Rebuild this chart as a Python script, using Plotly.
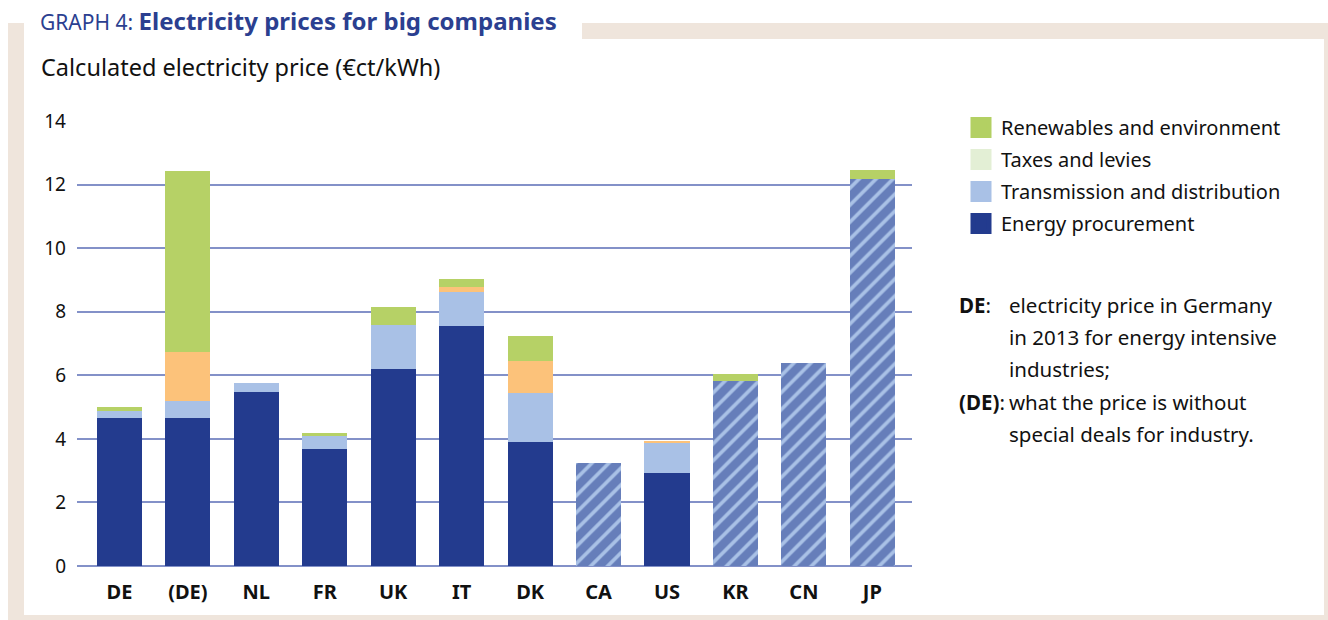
import plotly.graph_objects as go

# ---------------- data ----------------
categories = ["DE", "(DE)", "NL", "FR", "UK", "IT", "DK", "CA", "US", "KR", "CN", "JP"]
energy_procurement = [4.65, 4.65, 5.47, 3.68, 6.19, 7.55, 3.90, 0, 2.92, 0, 0, 0]
total_no_breakdown = [0, 0, 0, 0, 0, 0, 0, 3.24, 0, 5.82, 6.38, 12.17]
transmission = [0.22, 0.54, 0.28, 0.44, 1.39, 1.07, 1.54, 0, 0.95, 0, 0, 0]
taxes_levies = [0, 1.54, 0, 0, 0, 0.15, 1.01, 0, 0.06, 0, 0, 0]
renewables = [0.13, 5.69, 0, 0.06, 0.56, 0.26, 0.78, 0, 0, 0.22, 0, 0.28]

legend_names = ["Renewables and environment", "Taxes and levies",
                "Transmission and distribution", "Energy procurement"]
legend_colors = ["#b3d063", "#e3efd5", "#a9c1e6", "#233b8e"]

y_ticks = [0, 2, 4, 6, 8, 10, 12, 14]

note_lines = [
    ("<b>DE</b>:", "electricity price in Germany"),
    ("", "in 2013 for energy intensive"),
    ("", "industries;"),
    ("<b>(DE)</b>:", "what the price is without"),
    ("", "special deals for industry."),
]

title_main = "Electricity prices for big companies"
y_title = "Calculated electricity price (€ct/kWh)"

# ---------------- style ----------------
DARK = "#233b8e"
LIGHT = "#a9c1e6"
ORANGE = "#fcc27a"
GREEN = "#b6d166"
BEIGE = "#efe5dc"
FONT = "Noto Sans"

W, H = 1328, 620
L, R, T, B = 77, 416, 121, 54   # plot area 77..912 x 121..566


def px_x(px):
    return (px - L) / (W - L - R)


def px_y(py):
    return (H - B - py) / (H - T - B)


fig = go.Figure()
bar_w = 0.66
fig.add_bar(x=categories, y=energy_procurement, marker=dict(color=DARK, line_width=0),
            width=bar_w, showlegend=False, name="Energy procurement")
fig.add_bar(x=categories, y=total_no_breakdown,
            marker=dict(color=LIGHT, line_width=0,
                        pattern=dict(shape="/", fgcolor=DARK, bgcolor=LIGHT,
                                     size=12, solidity=0.7)),
            width=bar_w, showlegend=False, name="Total price")
fig.add_bar(x=categories, y=transmission, marker=dict(color=LIGHT, line_width=0),
            width=bar_w, showlegend=False, name="Transmission and distribution")
fig.add_bar(x=categories, y=taxes_levies, marker=dict(color=ORANGE, line_width=0),
            width=bar_w, showlegend=False, name="Taxes and levies")
fig.add_bar(x=categories, y=renewables, marker=dict(color=GREEN, line_width=0),
            width=bar_w, showlegend=False, name="Renewables and environment")

# legend entries
for name, col in zip(legend_names, legend_colors):
    fig.add_scatter(x=[None], y=[None], mode="markers", name=name,
                    marker=dict(symbol="square", size=16, color=col,
                                line=dict(color=col, width=5)),
                    legendgroup=name)

shapes = [
    dict(type="rect", xref="paper", yref="paper", layer="below",
         x0=px_x(8), x1=px_x(1330), y0=px_y(622), y1=px_y(23),
         fillcolor=BEIGE, line_width=0),
    dict(type="rect", xref="paper", yref="paper", layer="below",
         x0=px_x(24), x1=px_x(1324), y0=px_y(615), y1=px_y(39),
         fillcolor="white", line_width=0),
    dict(type="rect", xref="paper", yref="paper", layer="below",
         x0=px_x(24), x1=px_x(582), y0=px_y(39.5), y1=px_y(22),
         fillcolor="white", line_width=0),
]

annotations = [
    dict(xref="paper", yref="paper", x=px_x(39), y=px_y(67), xanchor="left",
         yanchor="middle", text=y_title, showarrow=False,
         font=dict(family=FONT, size=23.5, color="#111111")),
]
line_y0, line_dy = 305, 32.2
for i, (lab, txt) in enumerate(note_lines):
    yy = px_y(line_y0 + i * line_dy)
    if lab:
        annotations.append(dict(xref="paper", yref="paper", x=px_x(957), y=yy,
                                xanchor="left", yanchor="middle", text=lab, showarrow=False,
                                font=dict(family=FONT, size=20.5, color="#111111")))
    annotations.append(dict(xref="paper", yref="paper", x=px_x(1007), y=yy,
                            xanchor="left", yanchor="middle", text=txt, showarrow=False,
                            font=dict(family=FONT, size=20.5, color="#111111")))

fig.update_layout(
    width=W, height=H,
    margin=dict(l=L, r=R, t=T, b=B, pad=0),
    paper_bgcolor="white", plot_bgcolor="white",
    barmode="stack",
    font=dict(family=FONT, size=19, color="#111111"),
    title=dict(
        text="<span style='font-size:21px'>GRAPH 4: </span><b>" + title_main + "</b>",
        x=40 / W, xanchor="left", y=1 - 22 / H, yanchor="middle",
        font=dict(family=FONT, size=24, color="#2b3f90"),
    ),
    xaxis=dict(range=[-0.62, 11.58], showgrid=False, zeroline=False, showline=False,
               ticks="", ticklabelstandoff=12,
               tickfont=dict(family=FONT, size=20, weight="bold", color="#111111")),
    yaxis=dict(range=[0, 14], tickvals=y_ticks, showgrid=True, gridcolor="#8391c8",
               gridwidth=1.6, zeroline=True, zerolinecolor="#8391c8", zerolinewidth=1.6,
               showline=False, ticks="", ticklabelstandoff=10,
               tickfont=dict(family=FONT, size=19, color="#111111")),
    legend=dict(x=px_x(961), y=px_y(108), xanchor="left", yanchor="top",
                font=dict(family=FONT, size=20, color="#111111"),
                bgcolor="rgba(0,0,0,0)", traceorder="grouped", tracegroupgap=3,
                itemsizing="trace"),
    shapes=shapes,
    annotations=annotations,
    bargap=0.34,
)

# remove the default 8px page margin so the figure fills the window exactly
fig.write_html("out.html", config={"displayModeBar": False},
               post_script="document.body.style.margin='0px';")
